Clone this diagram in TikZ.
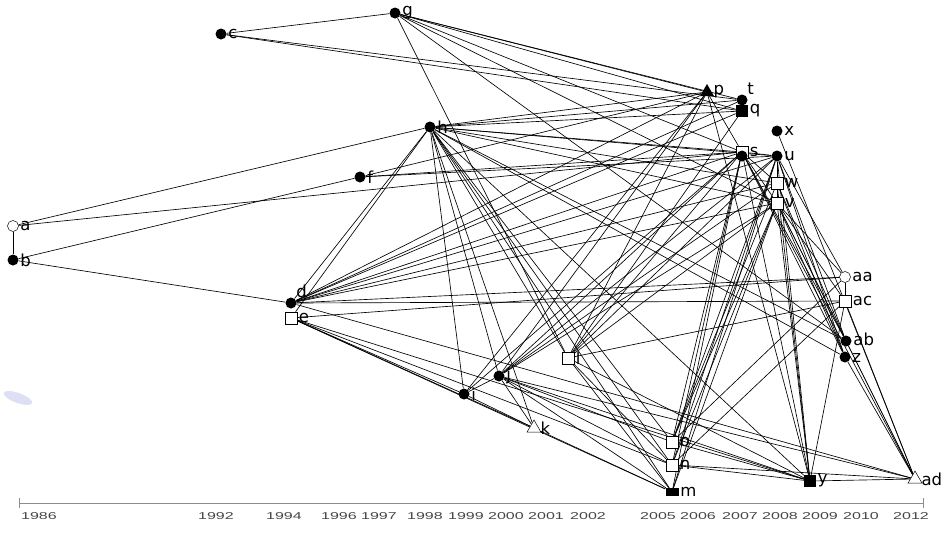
\documentclass[tikz,border=0pt]{standalone}
\usepackage{fontspec}
\usetikzlibrary{shapes.geometric, backgrounds}
\newfontfamily\lblfont{DejaVu Sans}
\newfontfamily\yrfont{Liberation Sans}
\definecolor{axisgray}{RGB}{140,140,140}
\definecolor{yeargray}{RGB}{70,70,70}
\definecolor{smudge}{RGB}{222,222,244}
\tikzset{
  dot/.style={circle, fill=black, inner sep=0pt, minimum size=11pt},
  hollow/.style={circle, draw=black, fill=white, line width=0.5pt,
    inner sep=0pt, minimum size=11pt},
  box/.style={rectangle, draw=black, fill=white, line width=0.5pt,
    inner sep=0pt, minimum size=12pt},
  blk/.style={rectangle, fill=black, inner sep=0pt, minimum size=12pt},
  tri/.style={regular polygon, regular polygon sides=3, fill=black,
    inner sep=0pt, minimum size=16pt},
  otri/.style={regular polygon, regular polygon sides=3, draw=black,
    fill=white, line width=0.5pt, inner sep=0pt, minimum size=16pt},
  lnk/.style={line width=0.65pt, black},
  axis/.style={line width=1pt, axisgray},
  yr/.style={font=\yrfont\fontsize{10}{10}\selectfont, text=yeargray,
    inner sep=0pt},
  every label/.style={font=\lblfont\fontsize{16.5}{16.5}\selectfont,
    inner sep=0pt}
}

\begin{document}
\begin{tikzpicture}[x=1pt, y=-1pt, label distance=1.5pt]
  \useasboundingbox (0,0) rectangle (948,544);

  % ── Actors ───────────────────────────────────────────────────────
  \node[hollow, label=right:a] (a) at (13,226) {};
  \node[dot,    label=right:b] (b) at (13,260) {};
  \node[dot,    label=right:c] (c) at (221,34) {};
  \node[dot,    label=right:g] (g) at (395,13) {};
  \node[dot,    label=right:h] (h) at (430,127) {};
  \node[dot,    label=right:f] (f) at (360,177) {};
  \node[dot,    label=above right:d] (d) at (291,303) {};
  \node[box,    label=right:e] (e) at (291,318) {};
  \node[dot,    label=right:i] (i) at (464,394) {};
  \node[dot,    label=right:j] (j) at (499,376) {};
  \node[otri,   label=right:k] (k) at (534,428) {};
  \node[box,    label=right:l] (l) at (568,358) {};
  \node[box,    label=right:o] (o) at (672,442) {};
  \node[box,    label=right:n] (n) at (672,465) {};
  \node[blk, minimum width=13pt, minimum height=8pt,
        label=right:m] (m) at (672,492) {};
  \node[tri,    label=right:p] (p) at (707,92) {};
  \node[blk,    label=right:q] (q) at (742,111) {};
  \node[dot,    label=above right:t] (t) at (742,100) {};
  \node[box,    label=right:s] (s) at (742,152) {};
  \node[dot] (s-dot) at (742,156) {};
  \node[dot,    label=right:x] (x) at (777,131) {};
  \node[dot,    label=right:u] (u) at (777,156) {};
  \node[box,    label=right:w] (w) at (777,183) {};
  \node[box,    label=right:v] (v) at (777,203) {};
  \node[hollow, label=right:aa] (aa) at (845,277) {};
  \node[box,    label=right:ac] (ac) at (845,301) {};
  \node[dot,    label={[yshift=1.5pt]right:ab}] (ab) at (846,341) {};
  \node[dot,    label={[yshift=-1pt]right:z}]   (z)  at (845,357) {};
  \node[blk,    label=right:y]  (y)  at (810,481) {};
  \node[otri,   label=right:ad] (ad) at (915,479) {};

  % ── Ties ─────────────────────────────────────────────────────────
  \begin{pgfonlayer}{background}
    \fill[smudge, rotate around={-20:(18,398)}] (18,398) ellipse (15 and 5);
    \foreach \u/\v in {a/b, a/h, a/s, b/f, b/d,
        c/g, c/t, c/q,
        g/p, g/t, g/q, g/s, g/v, g/l, g/ab,
        f/s, f/u, f/p,
        h/p, h/t, h/q, h/s, h/u, h/w, h/v, h/d, h/e, h/i, h/j, h/k,
        h/l, h/o, h/n, h/m, h/y, h/ab, h/z,
        d/p, d/t, d/q, d/s, d/u, d/w, d/v, d/aa, d/ac, d/ad,
        e/aa, e/i, e/k, e/m, e/y, e/n,
        i/j, i/p, i/s, i/k,
        j/p, j/s, j/u, j/w, j/v, j/k, j/m, j/n, j/o, j/y, j/ad,
        k/m,
        l/p, l/s, l/u, l/v, l/ac, l/m, l/n, l/y, q/l,
        o/s, o/u, o/w, o/v, o/y, o/aa,
        n/s, n/u, n/v, n/y, n/ad, n/ac,
        m/s, m/u, m/v,
        p/s, p/y,
        s/u, s/v, s/w, s/y, s/ab, s/z, s/ad,
        u/w, u/v, u/y, u/ab, u/z, u/aa,
        x/ad,
        w/ab, w/z, w/y,
        v/y, v/ab, v/z, v/ad, v/aa, v/ac,
        aa/ac, ac/y, ac/ad, y/ad, ab/ad, z/ad}
      { \draw[lnk] (\u) -- (\v); }
  \end{pgfonlayer}

  % ── Time axis ────────────────────────────────────────────────────
  \coordinate (ax-l) at (19,503);
  \coordinate (ax-r) at (923,503);
  \draw[axis] (ax-l) -- (ax-r);
  \draw[axis] ([yshift=-5pt]ax-l) -- ([yshift=5pt]ax-l);
  \draw[axis] ([yshift=-5pt]ax-r) -- ([yshift=5pt]ax-r);
  \foreach \yy/\px in {1986/39, 1992/216, 1994/284, 1996/339, 1997/379,
      1998/425, 1999/466, 2000/506, 2001/546, 2002/588, 2005/658,
      2006/698, 2007/740, 2008/780, 2009/820, 2010/861, 2012/911}
    { \node[yr] (yr\yy) at (\px,516) {\scalebox{1.6}[1]{\yy}}; }
\end{tikzpicture}
\end{document}
